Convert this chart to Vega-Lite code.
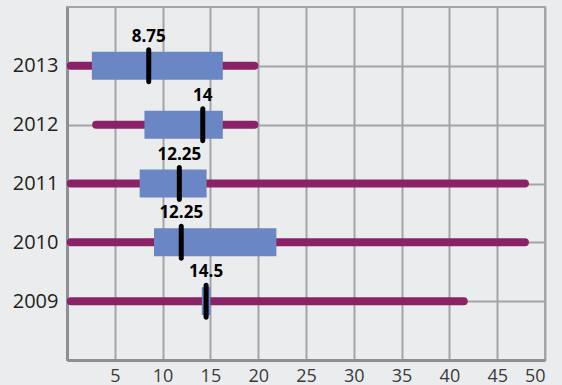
{
  "$schema": "https://vega.github.io/schema/vega-lite/v6.json",
  "width": 478,
  "height": 353,
  "autosize": {"type": "none"},
  "padding": {"left": 67, "top": 7, "right": 17, "bottom": 25},
  "background": "#ebecee",
  "config": {
    "view": {"stroke": "#a3a4a8", "strokeWidth": 2, "fill": "#ebecee"},
    "axis": {"gridColor": "#a3a4a8", "gridWidth": 2, "gridOpacity": 1, "domainColor": "#8e8f94", "domainWidth": 3, "ticks": false, "labelFont": "Open Sans", "title": null}
  },
  "data": {
    "values": [
      {"year": "2013", "min": 0.4, "q1": 2.6, "median": 8.55, "q3": 16.3, "max": 19.6, "label": "8.75"},
      {"year": "2012", "min": 3.05, "q1": 8.1, "median": 14.2, "q3": 16.3, "max": 19.6, "label": "14"},
      {"year": "2011", "min": 0.4, "q1": 7.6, "median": 11.75, "q3": 14.6, "max": 47.9, "label": "12.25"},
      {"year": "2010", "min": 0.4, "q1": 9.1, "median": 11.95, "q3": 21.9, "max": 47.9, "label": "12.25"},
      {"year": "2009", "min": 0.4, "q1": 14.1, "median": 14.55, "q3": 15.0, "max": 41.5, "label": "14.5"}
    ]
  },
  "encoding": {
    "y": {
      "field": "year", "type": "ordinal", "sort": "descending",
      "scale": {"type": "point", "padding": 1},
      "axis": {"grid": true, "labelFontSize": 20, "labelColor": "#231f20", "labelPadding": 9, "domainWidth": 3}
    }
  },
  "layer": [
    {
      "mark": {"type": "rule", "strokeWidth": 8, "strokeCap": "round", "color": "#8b2166"},
      "encoding": {
        "x": {"field": "min", "type": "quantitative", "scale": {"domain": [0, 50], "nice": false},
          "axis": {"values": [5, 10, 15, 20, 25, 30, 35, 40, 45, 50], "grid": true, "labelFontSize": 18, "labelColor": "#3a3a3a", "labelPadding": 7}},
        "x2": {"field": "max"}
      }
    },
    {
      "mark": {"type": "bar", "size": 28, "color": "#6b86c4"},
      "encoding": {
        "x": {"field": "q1", "type": "quantitative"},
        "x2": {"field": "q3"}
      }
    },
    {
      "mark": {"type": "tick", "thickness": 5, "size": 37, "cornerRadius": 2.5, "color": "#000000", "opacity": 1},
      "encoding": {
        "x": {"field": "median", "type": "quantitative"}
      }
    },
    {
      "mark": {"type": "text", "dy": -24, "baseline": "alphabetic", "align": "center", "font": "Open Sans", "fontWeight": "bold", "fontSize": 17, "color": "#000000"},
      "encoding": {
        "x": {"field": "median", "type": "quantitative"},
        "text": {"field": "label"}
      }
    }
  ]
}
